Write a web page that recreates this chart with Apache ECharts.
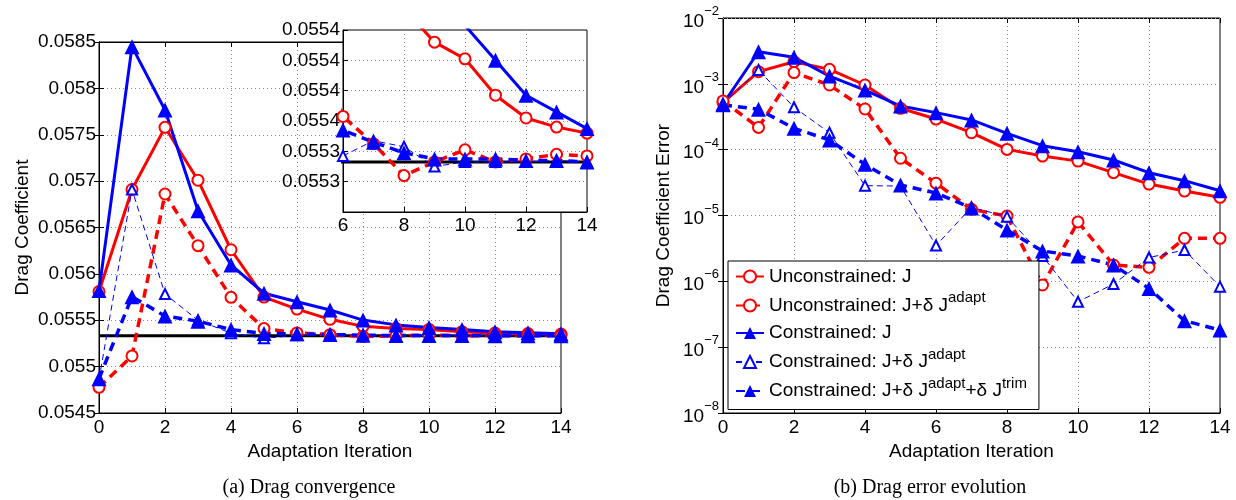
<!DOCTYPE html>
<html>
<head>
<meta charset="utf-8">
<script src="https://cdn.jsdelivr.net/npm/echarts@6/dist/echarts.min.js"></script>
<style>
html,body{margin:0;padding:0;background:#fff;}
#chart{width:1236px;height:500px;}
</style>
</head>
<body>
<div id="chart"></div>
<script>
// ---------------- data ----------------
const iterations = [0,1,2,3,4,5,6,7,8,9,10,11,12,13,14];
const seriesNames = [
  'Unconstrained: J',
  'Unconstrained: J+δ J^adapt',
  'Constrained: J',
  'Constrained: J+δ J^adapt',
  'Constrained: J+δ J^adapt+δ J^trim'
];
const refDrag = 0.055333;

// (a) drag coefficient
const dragUncJ     = [0.05581, 0.05691, 0.05758, 0.05701, 0.05626, 0.05575, 0.05562, 0.05551, 0.055434, 0.055412, 0.055401, 0.055377, 0.055362, 0.055356, 0.055352];
const dragUncAdapt = [0.054777, 0.055115, 0.056861, 0.056304, 0.055747, 0.055410, 0.055363, 0.055345, 0.055324, 0.055333, 0.055341, 0.055333, 0.055335, 0.055338, 0.055337];
const dragConJ     = [0.05582, 0.05845, 0.057767, 0.056681, 0.056096, 0.055791, 0.0557, 0.05561, 0.055502, 0.05545, 0.055423, 0.0554, 0.055377, 0.055366, 0.055355];
const dragConAdapt = [0.05486, 0.05691, 0.055783, 0.0555, 0.05536, 0.055305, 0.055337, 0.055347, 0.055343, 0.05533, 0.055333, 0.055333, 0.055333, 0.055334, 0.055333];
const dragConTrim  = [0.05487, 0.055754, 0.055546, 0.05549, 0.0554, 0.055358, 0.055354, 0.055346, 0.055339, 0.055335, 0.055335, 0.055335, 0.055334, 0.055334, 0.055333];

// (b) drag coefficient error
const errUncJ     = [5.2e-4, 1.53e-3, 2.17e-3, 1.66e-3, 9.6e-4, 4.25e-4, 2.92e-4, 1.81e-4, 1.01e-4, 8.0e-5, 6.7e-5, 4.47e-5, 3.0e-5, 2.35e-5, 1.89e-5];
const errUncAdapt = [5.5e-4, 2.18e-4, 1.48e-3, 9.6e-4, 4.15e-4, 7.4e-5, 3.1e-5, 1.24e-5, 9.8e-6, 8.8e-7, 8.0e-6, 1.77e-6, 1.63e-6, 4.5e-6, 4.5e-6];
const errConJ     = [4.94e-4, 3.07e-3, 2.53e-3, 1.31e-3, 8.05e-4, 4.6e-4, 3.65e-4, 2.83e-4, 1.77e-4, 1.15e-4, 9.3e-5, 6.97e-5, 4.47e-5, 3.38e-5, 2.38e-5];
const errConAdapt = [4.9e-4, 1.62e-3, 4.4e-4, 1.81e-4, 2.84e-5, 2.8e-5, 3.5e-6, 1.33e-5, 9.6e-6, 2.43e-6, 4.9e-7, 9.1e-7, 2.3e-6, 2.99e-6, 8.3e-7];
const errConTrim  = [4.8e-4, 4.1e-4, 2.11e-4, 1.40e-4, 5.98e-5, 2.9e-5, 2.2e-5, 1.3e-5, 6.0e-6, 2.89e-6, 2.43e-6, 1.77e-6, 7.8e-7, 2.52e-7, 1.82e-7];

const minorDecades = [-8,-7,-6,-5,-4,-3];
const minorMultipliers = [2,3,4,5,6,7,8,9];

const captionA = '(a) Drag convergence';
const captionB = '(b) Drag error evolution';
const xName = 'Adaptation Iteration';
const yNameA = 'Drag Coefficient';
const yNameB = 'Drag Coefficient Error';

// ---------------- styles ----------------
const FONT = 'Liberation Sans, Arial, Helvetica, sans-serif';
const styles = [
  {color:'#ff0000', width:3,   type:'solid', symbol:'emptyCircle',   size:11, bw:2.2},
  {color:'#ff0000', width:3.5, type:[9,6],   symbol:'emptyCircle',   size:11, bw:3},
  {color:'#0000ff', width:3,   type:'solid', symbol:'triangle',      size:15, bw:0},
  {color:'#0000ff', width:1,   type:[6,4],   symbol:'emptyTriangle', size:10, bw:1},
  {color:'#0000ff', width:3.5, type:[9,6],   symbol:'triangle',      size:15, bw:0}
];
const dragSets = [dragUncJ, dragUncAdapt, dragConJ, dragConAdapt, dragConTrim];
const errSets  = [errUncJ, errUncAdapt, errConJ, errConAdapt, errConTrim];

function pairs(vals){ return iterations.map((x,i)=>[x, vals[i]]); }

function mkSeries(name, st, vals, xi, yi, z){
  return {
    type:'line', name:name, xAxisIndex:xi, yAxisIndex:yi, z:z,
    data:pairs(vals), symbol:st.symbol, symbolSize:st.size, showAllSymbol:true,
    lineStyle:{color:st.color, width:st.width, type:st.type},
    itemStyle:{color:st.color, borderColor:st.color, borderWidth:st.bw},
    emphasis:{disabled:true}, animation:false
  };
}

const gridLine = {show:true, lineStyle:{color:'#8a8a8a', width:1, type:[1,3]}};
const axLine = {show:true, lineStyle:{color:'#000', width:1}};
const axTick = {show:true, inside:true, length:5, lineStyle:{color:'#000'}};
const lbl = {color:'#000', fontSize:19, fontFamily:FONT};

function fmtDrag(v){ return String(parseFloat(v.toFixed(4))); }

const series = [];
// reference line (main + inset)
series.push({type:'line', name:'ref', xAxisIndex:0, yAxisIndex:0, z:2, data:iterations.map(x=>[x, refDrag]),
  symbol:'none', lineStyle:{color:'#000', width:3}, emphasis:{disabled:true}, animation:false});
series.push({type:'line', name:'ref', xAxisIndex:1, yAxisIndex:1, z:7, data:iterations.map(x=>[x, refDrag]),
  symbol:'none', lineStyle:{color:'#000', width:3}, emphasis:{disabled:true}, animation:false});
for (let k=0;k<5;k++){
  series.push(mkSeries(seriesNames[k], styles[k], dragSets[k], 0, 0, 2));
}
for (let k=0;k<5;k++){
  series.push(mkSeries(seriesNames[k], styles[k], dragSets[k], 1, 1, 7));
}
for (let k=0;k<5;k++){
  const s = mkSeries(seriesNames[k], styles[k], errSets[k], 2, 2, 2);
  if (k===0){
    const ml = [];
    minorDecades.forEach(d=>minorMultipliers.forEach(m=>ml.push({yAxis: m*Math.pow(10,d)})));
    s.markLine = {silent:true, symbol:['none','none'], label:{show:false},
      lineStyle:{color:'#a0a0a0', width:1, type:[1,3]}, data:ml, animation:false};
  }
  series.push(s);
}

const option = {
  animation:false,
  backgroundColor:'#fff',
  grid:[
    {left:99, top:42, width:462, height:371, show:true, borderColor:'#000', borderWidth:1, backgroundColor:'transparent', z:0},
    {left:343, top:30, width:244, height:182, show:true, borderColor:'#000', borderWidth:1, backgroundColor:'#fff', z:5},
    {left:723, top:18, width:497, height:395, show:true, borderColor:'#000', borderWidth:1, backgroundColor:'transparent', z:0}
  ],
  xAxis:[
    {type:'value', gridIndex:0, min:0, max:14, interval:2, axisLine:axLine, axisTick:axTick, splitLine:gridLine,
     axisLabel:Object.assign({margin:5}, lbl), name:xName, nameLocation:'middle', nameGap:23,
     nameTextStyle:{color:'#000', fontSize:19, fontFamily:FONT}},
    {type:'value', gridIndex:1, min:6, max:14, interval:2, z:6, axisLine:axLine, axisTick:axTick, splitLine:gridLine,
     axisLabel:Object.assign({margin:4}, lbl)},
    {type:'value', gridIndex:2, min:0, max:14, interval:2, axisLine:axLine, axisTick:axTick, splitLine:gridLine,
     axisLabel:Object.assign({margin:5}, lbl), name:xName, nameLocation:'middle', nameGap:23,
     nameTextStyle:{color:'#000', fontSize:19, fontFamily:FONT}},
    {type:'value', gridIndex:0, position:'top', min:0, max:14, interval:2, axisLine:axLine, axisTick:axTick,
     splitLine:{show:false}, axisLabel:{show:false}},
    {type:'value', gridIndex:2, position:'top', min:0, max:14, interval:2, axisLine:axLine, axisTick:axTick,
     splitLine:{show:false}, axisLabel:{show:false}}
  ],
  yAxis:[
    {type:'value', gridIndex:0, min:0.0545, max:0.0585, interval:0.0005, axisLine:axLine, axisTick:axTick, splitLine:gridLine,
     axisLabel:Object.assign({margin:3, formatter:fmtDrag}, lbl), name:yNameA, nameLocation:'middle', nameGap:67,
     nameTextStyle:{color:'#000', fontSize:19, fontFamily:FONT}},
    {type:'value', gridIndex:1, min:0.0553, max:0.05542, interval:0.00002, z:6, axisLine:axLine, axisTick:axTick, splitLine:gridLine,
     axisLabel:Object.assign({margin:3, showMinLabel:false, formatter:v=>v.toFixed(4)}, lbl)},
    {type:'log', logBase:10, gridIndex:2, min:1e-8, max:1e-2, axisLine:axLine, axisTick:axTick, splitLine:gridLine,
     axisLabel:{margin:4, color:'#000', fontFamily:FONT,
       formatter:v=>'{b|10}{s|\u2212'+Math.round(-Math.log10(v))+'}',
       rich:{b:{fontSize:19, fontFamily:FONT, color:'#000', padding:[7,0,0,0]},
             s:{fontSize:13, fontFamily:FONT, color:'#000', padding:[0,0,13,0]}}},
     name:yNameB, nameLocation:'middle', nameGap:50,
     nameTextStyle:{color:'#000', fontSize:19, fontFamily:FONT}},
    {type:'value', gridIndex:0, position:'right', min:0.0545, max:0.0585, interval:0.0005, axisLine:axLine, axisTick:axTick,
     splitLine:{show:false}, axisLabel:{show:false}},
    {type:'log', logBase:10, gridIndex:2, position:'right', min:1e-8, max:1e-2, axisLine:axLine, axisTick:axTick,
     splitLine:{show:false}, axisLabel:{show:false}}
  ],
  legend:{
    data:seriesNames, orient:'vertical', left:728, top:261,
    backgroundColor:'#fff', borderColor:'#000', borderWidth:1, padding:[2,12,5,7],
    itemWidth:28, itemHeight:15, itemGap:0.5, z:20, selectedMode:false,
    formatter:n=>n.replace(/\^(\w+)/g, '{sup|$1}'),
    textStyle:{color:'#000', fontSize:19, fontFamily:FONT, lineHeight:27,
      rich:{sup:{fontSize:15, fontFamily:FONT, color:'#000', padding:[0,0,15,0]}}}
  },
  graphic:[
    {type:'text', x:309, y:488, style:{text:captionA, fill:'#000', font:'20px "Liberation Serif", "DejaVu Serif", serif', textAlign:'center', textVerticalAlign:'middle'}},
    {type:'text', x:930, y:488, style:{text:captionB, fill:'#000', font:'20px "Liberation Serif", "DejaVu Serif", serif', textAlign:'center', textVerticalAlign:'middle'}}
  ],
  series:series
};

const chart = echarts.init(document.getElementById('chart'), null, {renderer:'canvas'});
chart.setOption(option);
</script>
</body>
</html>
